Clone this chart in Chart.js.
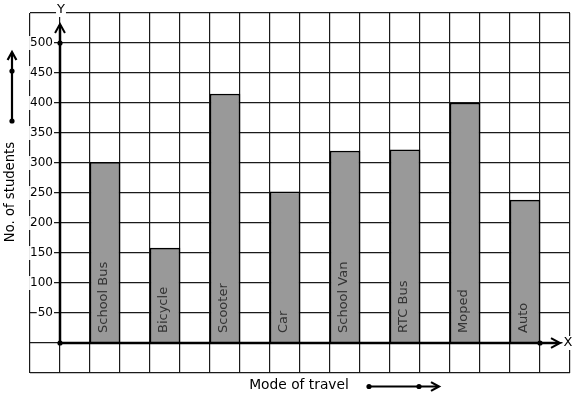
<!DOCTYPE html>
<html><head><meta charset="utf-8">
<script src="https://cdn.jsdelivr.net/npm/chart.js@4"></script>
<style>html,body{margin:0;padding:0;background:#fff}#wrap{width:577px;height:399px}</style>
</head><body><div id="wrap"><canvas id="c" width="577" height="399"></canvas></div>
<script>
const categories = ['School Bus','Bicycle','Scooter','Car','School Van','RTC Bus','Moped','Auto'];
const students = [301, 158, 415, 252, 320, 322, 400, 238];
const yTickLabels = ['50','100','150','200','250','300','350','400','450','500'];
const yTickValues = [50,100,150,200,250,300,350,400,450,500];
const xTitle = 'Mode of travel';
const yTitle = 'No. of students';
const xAxisName = 'X';
const yAxisName = 'Y';

const FONT = '"DejaVu Sans", sans-serif';

function arrowHead(ctx, tx, ty, dir, size) {
  ctx.beginPath();
  if (dir === 'up') {
    ctx.moveTo(tx - size*0.55, ty + size);
    ctx.lineTo(tx, ty);
    ctx.lineTo(tx + size*0.55, ty + size);
  } else {
    ctx.moveTo(tx - size, ty - size*0.55);
    ctx.lineTo(tx, ty);
    ctx.lineTo(tx - size, ty + size*0.55);
  }
  ctx.stroke();
}
function dot(ctx, x, y, r) {
  ctx.beginPath(); ctx.arc(x, y, r, 0, Math.PI*2); ctx.fill();
}
function labelWithBackdrop(ctx, text, x, y, align) {
  const w = ctx.measureText(text).width;
  let left = align === 'right' ? x - w : (align === 'center' ? x - w/2 : x);
  ctx.fillStyle = '#fff';
  ctx.fillRect(left - 1, y - 7, w + 2, 14);
  ctx.fillStyle = '#000';
  ctx.textAlign = align;
  ctx.textBaseline = 'middle';
  ctx.fillText(text, x, y);
}

const overlay = {
  id: 'overlay',
  afterDraw(chart) {
    const ctx = chart.ctx;
    const xs = chart.scales.x, ys = chart.scales.y;
    const x0 = xs.getPixelForValue(0), y0 = ys.getPixelForValue(0);
    ctx.save();
    // category labels inside bars
    ctx.font = '13px ' + FONT;
    ctx.fillStyle = '#333';
    categories.forEach((c, i) => {
      const xp = xs.getPixelForValue(1.5 + 2*i) - 1;
      ctx.save();
      ctx.translate(xp, y0 - 10);
      ctx.rotate(-Math.PI/2);
      ctx.textAlign = 'left';
      ctx.textBaseline = 'middle';
      ctx.fillText(c, 0, 0);
      ctx.restore();
    });
    // y tick labels
    ctx.font = '12px ' + FONT;
    yTickValues.forEach((v, i) => {
      labelWithBackdrop(ctx, yTickLabels[i], x0 - 7, ys.getPixelForValue(v), 'right');
    });
    // axes
    ctx.strokeStyle = '#000';
    ctx.fillStyle = '#000';
    ctx.lineWidth = 2.5;
    ctx.beginPath(); ctx.moveTo(x0, y0); ctx.lineTo(x0, 25); ctx.stroke();
    ctx.beginPath(); ctx.moveTo(x0, y0); ctx.lineTo(559, y0); ctx.stroke();
    ctx.lineWidth = 2;
    arrowHead(ctx, x0, 24, 'up', 9);
    arrowHead(ctx, 560, y0, 'right', 9);
    dot(ctx, x0, y0, 2.6);
    dot(ctx, x0, ys.getPixelForValue(500), 2.6);
    dot(ctx, xs.getPixelForValue(16), y0, 2.6);
    // axis names
    ctx.font = '13px ' + FONT;
    labelWithBackdrop(ctx, yAxisName, x0 + 1, 10, 'center');
    labelWithBackdrop(ctx, xAxisName, 568, y0, 'center');
    // titles
    ctx.fillStyle = '#000';
    ctx.textAlign = 'center'; ctx.textBaseline = 'middle';
    ctx.font = '13.8px ' + FONT;
    ctx.fillText(xTitle, 299, 385);
    ctx.font = '13.2px ' + FONT;
    ctx.save();
    ctx.translate(11, 192);
    ctx.rotate(-Math.PI/2);
    ctx.fillText(yTitle, 0, 0);
    ctx.restore();
    // title arrows
    ctx.lineWidth = 2.2;
    ctx.beginPath(); ctx.moveTo(369, 386.5); ctx.lineTo(438, 386.5); ctx.stroke();
    arrowHead(ctx, 439, 386.5, 'right', 8);
    dot(ctx, 369, 386.5, 2.6); dot(ctx, 419, 386.5, 2.6);
    ctx.beginPath(); ctx.moveTo(12, 121); ctx.lineTo(12, 53); ctx.stroke();
    arrowHead(ctx, 12, 52, 'up', 8);
    dot(ctx, 12, 121, 2.6); dot(ctx, 12, 71, 2.6);
    ctx.restore();
  }
};

new Chart(document.getElementById('c'), {
  type: 'bar',
  data: {
    datasets: [{
      data: students.map((v, i) => ({ x: 1.5 + 2*i, y: v })),
      backgroundColor: '#999999',
      borderColor: '#000',
      borderWidth: 1.5,
      barThickness: 30
    }]
  },
  options: {
    responsive: false,
    devicePixelRatio: 1,
    animation: false,
    layout: { padding: { left: 30, right: 7, top: 13, bottom: 26 } },
    plugins: { legend: { display: false }, tooltip: { enabled: false } },
    scales: {
      x: { type: 'linear', min: -1, max: 17, offset: false,
        ticks: { display: false, stepSize: 1 },
        grid: { color: '#1a1a1a', lineWidth: 1.2, drawTicks: false, offset: false },
        border: { display: false } },
      y: { type: 'linear', min: -50, max: 550,
        ticks: { display: false, stepSize: 50 },
        grid: { color: '#1a1a1a', lineWidth: 1.2, drawTicks: false },
        border: { display: false } }
    }
  },
  plugins: [overlay]
});
</script></body></html>
